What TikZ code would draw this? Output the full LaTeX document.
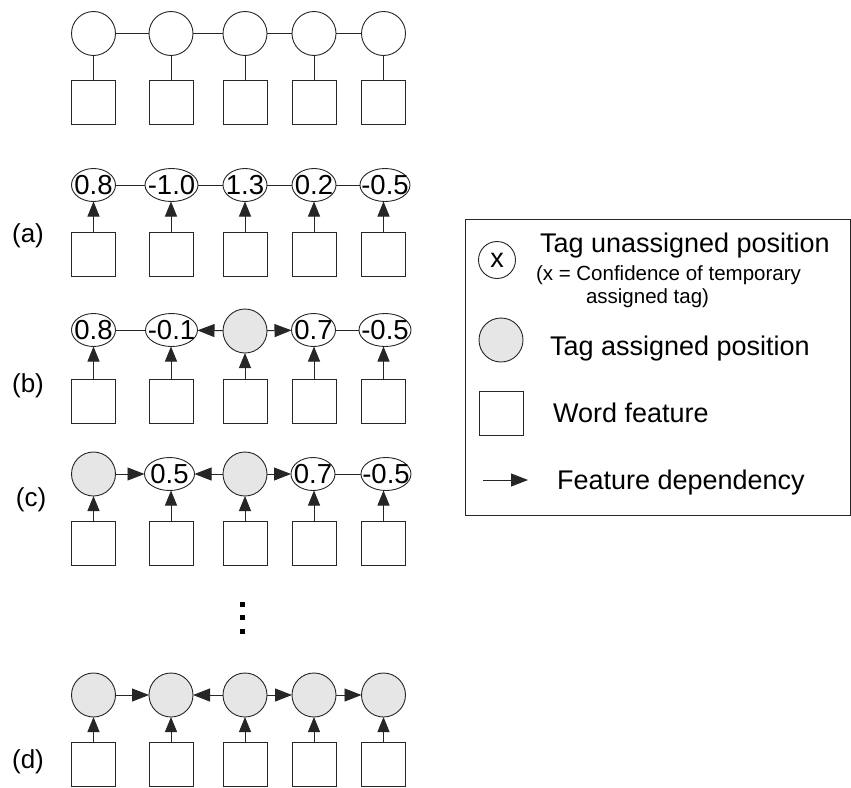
\documentclass[tikz,border=0pt]{standalone}
\usepackage{fontspec}
\setmainfont{Liberation Sans}
\usetikzlibrary{shapes.geometric,arrows.meta}
\definecolor{tagfill}{HTML}{E6E6E6}
\definecolor{linec}{HTML}{262626}
\begin{document}
\begin{tikzpicture}[x=1pt,y=-1pt,
  every node/.style={inner sep=0pt, outer sep=0pt},
  link/.style={draw=linec, line width=0.9pt},
  tagc/.style={circle, link, minimum size=44pt},
  tagg/.style={tagc, fill=tagfill},
  tage/.style={ellipse, link, minimum height=33pt, minimum width=#1, font=\fontsize{27.5}{30}\selectfont},
  tage/.default=44pt,
  wbox/.style={rectangle, link, minimum width=44pt, minimum height=44pt},
  dep/.style={link, -{Triangle[length=15pt,width=12pt]}},
  hdep/.style={link, -{Triangle[length=17pt,width=13pt]}},
  lab/.style={font=\fontsize{26}{30}\selectfont},
  legbig/.style={anchor=base west, font=\fontsize{27}{30}\selectfont},
  legsmall/.style={anchor=base west, font=\fontsize{20.5}{23}\selectfont},
]
\path[use as bounding box, fill=white] (0,0) rectangle (851,787);

% ---------- top row ----------
\foreach \i/\x in {1/93.5,2/171,3/245,4/314,5/383.5}{
  \node[tagc] (t\i) at (\x,33.5) {};
  \node[wbox] (ts\i) at (\x,102.5) {};
  \draw[link] (t\i) -- (ts\i);
}
\draw[link] (t1) -- (t2) (t2) -- (t3) (t3) -- (t4) (t4) -- (t5);

% ---------- row (a) ----------
\node[lab] (la) at (28,236) {(a)};
\node[tage] (a1) at (93.5,185) {\makebox[0pt]{0.8}};
\node[tage=53pt] (a2) at (171.5,185) {\makebox[0pt]{-1.0}};
\node[tage] (a3) at (245,185) {\makebox[0pt]{1.3}};
\node[tage] (a4) at (314,185) {\makebox[0pt]{0.2}};
\node[tage=50pt] (a5) at (385,185) {\makebox[0pt]{-0.5}};
\draw[link] (a1) -- (a2) (a2) -- (a3) (a3) -- (a4) (a4) -- (a5);
\foreach \i/\x in {1/93.5,2/171,3/245,4/314,5/383.5}{
  \node[wbox] (as\i) at (\x,254) {};
  \draw[dep] (as\i.north) -- (as\i.north |- a\i.south);
}

% ---------- row (b) ----------
\node[lab] (lb) at (28,386) {(b)};
\node[tage] (b1) at (93.5,330) {\makebox[0pt]{0.8}};
\node[tage=52pt] (b2) at (171.5,330) {\makebox[0pt]{-0.1}};
\node[tagg] (b3) at (245,331) {};
\node[tage] (b4) at (313.5,330) {\makebox[0pt]{0.7}};
\node[tage=52pt] (b5) at (385,330) {\makebox[0pt]{-0.5}};
\draw[link] (b1) -- (b2) (b4) -- (b5);
\draw[hdep] (b3) -- (b2);
\draw[hdep] (b3) -- (b4);
\foreach \i/\x in {1/93.5,2/171,3/245,4/314,5/383.5}{
  \node[wbox] (bs\i) at (\x,401) {};
  \draw[dep] (bs\i.north) -- (bs\i.north |- b\i.south);
}

% ---------- row (c) ----------
\node[lab] (lc) at (31,500) {(c)};
\node[tagg] (c1) at (93.5,474) {};
\node[tage=50pt] (c2) at (169.5,474) {\makebox[0pt]{0.5}};
\node[tagg] (c3) at (245,474) {};
\node[tage] (c4) at (313,474) {\makebox[0pt]{0.7}};
\node[tage=50pt] (c5) at (386,474) {\makebox[0pt]{-0.5}};
\draw[hdep] (c1) -- (c2);
\draw[hdep] (c3) -- (c2);
\draw[hdep] (c3) -- (c4);
\draw[link] (c4) -- (c5);
\foreach \i/\x in {1/93.5,2/171,3/245,4/314,5/383.5}{
  \node[wbox] (cs\i) at (\x,543) {};
  \draw[dep] (cs\i.north) -- (cs\i.north |- c\i.south);
}

% ---------- dots ----------
\foreach \k/\y in {1/604,2/617.5,3/631}{
  \node[rectangle, fill=black, minimum size=5pt] (dot\k) at (242.5,\y) {};
}

% ---------- row (d) ----------
\node[lab] (ld) at (28,762) {(d)};
\foreach \i/\x in {1/93.5,2/171,3/245,4/314,5/383.5}{
  \node[tagg] (d\i) at (\x,695) {};
  \node[wbox] (ds\i) at (\x,764) {};
  \draw[dep] (ds\i) -- (d\i);
}
\draw[hdep] (d1) -- (d2);
\draw[hdep] (d3) -- (d2);
\draw[hdep] (d3) -- (d4);
\draw[hdep] (d4) -- (d5);

% ---------- legend ----------
\node[rectangle, link, minimum width=385pt, minimum height=296pt] (legend) at (657.5,367) {};
\node[tagc, minimum size=37pt] (lx) at (497,260) {\fontsize{27}{27}\selectfont x};
\node[legbig] (l1) at (540,252) {Tag unassigned position};
\node[legsmall] (l2) at (536,280) {(x = Confidence of temporary};
\node[legsmall] (l3) at (586,303) {assigned tag)};
\node[tagg] (lg) at (501,340) {};
\node[legbig] (l4) at (550,355) {Tag assigned position};
\node[wbox] (lw) at (501,413) {};
\node[legbig] (l5) at (553,422) {Word feature};
\coordinate (la1) at (483,480);
\coordinate (la2) at (528,480);
\draw[hdep] (la1) -- (la2);
\node[legbig] (l6) at (557,489) {Feature dependency};
\end{tikzpicture}
\end{document}
